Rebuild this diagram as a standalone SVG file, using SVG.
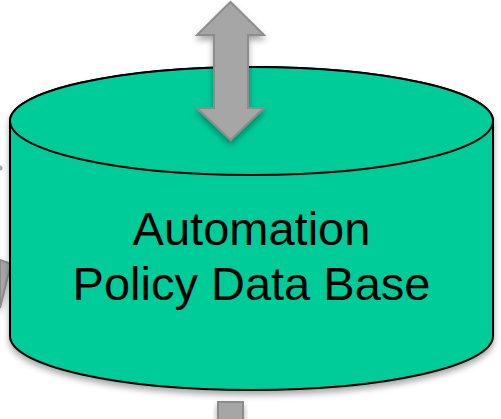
<svg xmlns="http://www.w3.org/2000/svg" width="501" height="419" viewBox="0 0 501 419">
<style>
.db{fill:#00CC99;stroke:#000;stroke-width:2}
.arr{fill:#A6A6A6;stroke:#8C8C8C;stroke-width:2;stroke-linejoin:miter}
.lbl{font-family:"Liberation Sans",Arial,sans-serif;font-size:47px;fill:#000;text-anchor:middle}
</style>
<defs>
<filter id="sh" x="-20%" y="-20%" width="140%" height="150%">
<feDropShadow dx="0" dy="4" stdDeviation="3" flood-color="#000" flood-opacity="0.35"/>
</filter>
</defs>
<g id="edge-stubs">
<polygon class="arr" points="0,260 11,264 0,308" stroke="none" filter="url(#sh)"/>
<circle cx="0" cy="168" r="2.5" fill="#A6A6A6"/>
</g>
<g id="database">
<path class="db" filter="url(#sh)" d="M10,121 L10,336 A241.5,54 0 0 0 493,336 L493,121 A241.5,54 0 0 0 10,121 Z"/>
<ellipse class="db" cx="251.5" cy="121" rx="241.5" ry="54"/>
<text class="lbl" x="251.5" y="245">Automation</text>
<text class="lbl" x="251.5" y="300">Policy Data Base</text>
</g>
<g id="connectors">
<polygon class="arr" filter="url(#sh)" points="230.5,2 264,35 248,35 248,108 264,108 230.5,140 197,108 214,108 214,35 197,35"/>
<rect class="arr" filter="url(#sh)" x="218" y="402" width="25" height="30"/>
</g>
</svg>
